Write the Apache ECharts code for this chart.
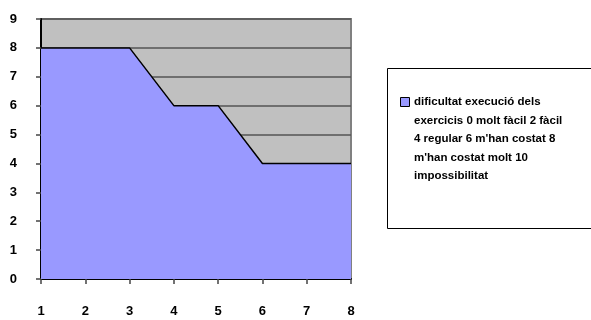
<!DOCTYPE html>
<html>
<head>
<meta charset="utf-8">
<script src="https://cdn.jsdelivr.net/npm/echarts@6/dist/echarts.min.js"></script>
<style>
  html, body { margin: 0; padding: 0; background: #fff; }
  #chart { width: 591px; height: 320px; }
</style>
</head>
<body>
<div id="chart"></div>
<script>
const categories = ['1', '2', '3', '4', '5', '6', '7', '8'];
const values = [8, 8, 8, 6, 6, 4, 4, 4];
const seriesName = "dificultat execució dels\nexercicis 0 molt fàcil 2 fàcil\n4 regular 6 m'han costat 8\nm'han costat molt 10\nimpossibilitat";

document.addEventListener("DOMContentLoaded", () => {
    const chart = echarts.init(document.getElementById('chart'));
    const font = "'Liberation Sans', Arial, sans-serif";

    const option = {
        animation: false,
        grid: {
            left: 41, top: 19, width: 310, height: 260,
            show: true,
            backgroundColor: '#c0c0c0',
            borderColor: '#808080',
            borderWidth: 2
        },
        xAxis: {
            type: 'category',
            data: categories,
            boundaryGap: false,
            axisLine: { lineStyle: { color: '#000', width: 2 } },
            axisTick: { show: true, interval: 0, length: 5, lineStyle: { color: '#444', width: 1.5 } },
            axisLabel: { margin: 26, color: '#000', fontWeight: 'bold', fontSize: 13, fontFamily: font }
        },
        yAxis: {
            type: 'value',
            min: 0,
            max: 9,
            interval: 1,
            axisLine: { show: true, lineStyle: { color: '#000', width: 2 } },
            axisTick: { show: true, length: 5, lineStyle: { color: '#444', width: 1.5 } },
            axisLabel: { margin: 24, color: '#000', fontWeight: 'bold', fontSize: 13, fontFamily: font },
            splitLine: { lineStyle: { color: '#555', width: 1.5 } }
        },
        series: [{
            name: seriesName,
            type: 'line',
            data: values,
            symbol: 'none',
            lineStyle: { color: '#000', width: 1.5 },
            areaStyle: { color: '#9999ff', opacity: 1 },
            itemStyle: { color: '#9999ff' }
        }],
        graphic: [
            {
                type: 'rect',
                shape: { x: 387.5, y: 68.5, width: 220, height: 160 },
                style: { fill: '#fff', stroke: '#000', lineWidth: 1 }
            },
            {
                type: 'rect',
                shape: { x: 400.5, y: 97.5, width: 9, height: 9 },
                style: { fill: '#9999ff', stroke: '#000', lineWidth: 1 }
            },
            {
                type: 'text',
                x: 414,
                y: 93,
                style: {
                    text: seriesName,
                    fill: '#000',
                    font: "bold 11.5px " + font,
                    lineHeight: 18.5
                }
            }
        ]
    };

    chart.setOption(option);
});
</script>
</body>
</html>
